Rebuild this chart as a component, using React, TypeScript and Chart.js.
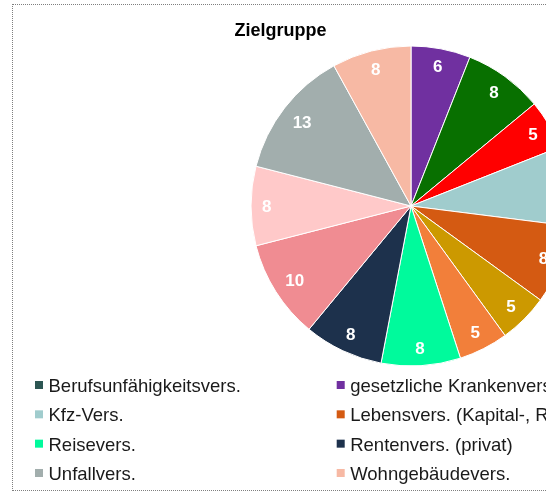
import React, { useEffect, useRef } from "react";
import { Chart, registerables } from "chart.js";

Chart.register(...registerables);

const TITLE = "Zielgruppe";

const categories = [
  "Berufsunfähigkeitsvers.",
  "gesetzliche Krankenvers.",
  "Haftpflichtvers. (privat)",
  "Hausratvers.",
  "Kfz-Vers.",
  "Lebensvers. (Kapital-, Rentenvers.)",
  "Pflegevers.",
  "private Krankenvers.",
  "Reisevers.",
  "Rentenvers. (privat)",
  "Riester-Rente",
  "Risikolebensvers.",
  "Unfallvers.",
  "Wohngebäudevers.",
];

const values = [0, 6, 8, 5, 8, 8, 5, 5, 8, 8, 10, 8, 13, 8];

const colors = [
  "#2D5653",
  "#7030A0",
  "#087000",
  "#FF0000",
  "#A0CCCD",
  "#D45A12",
  "#CC9900",
  "#F27F3A",
  "#00FA9C",
  "#1D314C",
  "#F08C92",
  "#FFC9C9",
  "#A2AEAD",
  "#F7B9A4",
];

const FONT = "'Liberation Sans', Arial, sans-serif";

const sliceLabels = {
  id: "sliceLabels",
  afterDatasetsDraw(chart: any) {
    const meta = chart.getDatasetMeta(0);
    const ctx = chart.ctx;
    const size = 17;
    const cap = size * 0.716;
    ctx.save();
    ctx.font = `bold ${size}px ${FONT}`;
    ctx.fillStyle = "#ffffff";
    ctx.textAlign = "center";
    ctx.textBaseline = "alphabetic";
    meta.data.forEach((arc: any, i: number) => {
      const v = values[i];
      if (!v) return;
      const p = arc.getProps(["x", "y", "startAngle", "endAngle", "outerRadius"], true);
      const mid = (p.startAngle + p.endAngle) / 2;
      const txt = String(v);
      const w = ctx.measureText(txt).width;
      const c = Math.cos(mid);
      const s = Math.sin(mid);
      const ext = (Math.abs(c) * w) / 2 + (Math.abs(s) * cap) / 2;
      const d = p.outerRadius - 11 - ext;
      ctx.fillText(txt, p.x + c * d, p.y + s * d + cap / 2);
    });
    ctx.restore();
  },
};

const titleAndLegend = {
  id: "titleAndLegend",
  afterDraw(chart: any) {
    const ctx = chart.ctx;
    ctx.save();
    // title
    ctx.font = `bold 18px ${FONT}`;
    ctx.fillStyle = "#000000";
    ctx.textAlign = "center";
    ctx.textBaseline = "alphabetic";
    ctx.fillText(TITLE, 267.5, 31);
    // legend
    ctx.font = `18.5px ${FONT}`;
    ctx.textAlign = "left";
    const cols = 4;
    const colStep = 301.7;
    const rowStep = 29.33;
    const x0 = 22;
    const y0 = 376;
    categories.forEach((label, i) => {
      const col = i % cols;
      const row = Math.floor(i / cols);
      const x = x0 + col * colStep;
      const y = y0 + row * rowStep;
      ctx.fillStyle = colors[i];
      ctx.fillRect(x, y, 8, 8);
      ctx.fillStyle = "#1a1a1a";
      ctx.fillText(label, x + 13.5, y + 11);
    });
    ctx.restore();
  },
};

export default function App() {
  const canvasRef = useRef<HTMLCanvasElement | null>(null);

  useEffect(() => {
    const canvas = canvasRef.current;
    if (!canvas) return;
    const chart = new Chart(canvas, {
      type: "pie",
      data: {
        labels: categories,
        datasets: [
          {
            data: values,
            backgroundColor: colors,
            borderColor: "#ffffff",
            borderWidth: 1,
          },
        ],
      },
      options: {
        responsive: false,
        maintainAspectRatio: false,
        animation: false,
        layout: {
          padding: { left: 237.5, top: 40.5, right: 639.5, bottom: 123.5 },
        },
        plugins: {
          legend: { display: false },
          title: { display: false },
          tooltip: { enabled: false },
        },
      },
      plugins: [sliceLabels, titleAndLegend],
    });
    return () => chart.destroy();
  }, []);

  return (
    <div
      style={{
        position: "fixed",
        left: 0,
        top: 0,
        width: 546,
        height: 491,
        overflow: "hidden",
        background: "#ffffff",
      }}
    >
      <div
        style={{
          position: "absolute",
          left: 12,
          top: 4,
          width: 1200,
          height: 487,
          boxSizing: "border-box",
          border: "1px dotted #7f7f7f",
          background: "#ffffff",
        }}
      >
        <canvas ref={canvasRef} width={1198} height={485} style={{ display: "block" }} />
      </div>
    </div>
  );
}
